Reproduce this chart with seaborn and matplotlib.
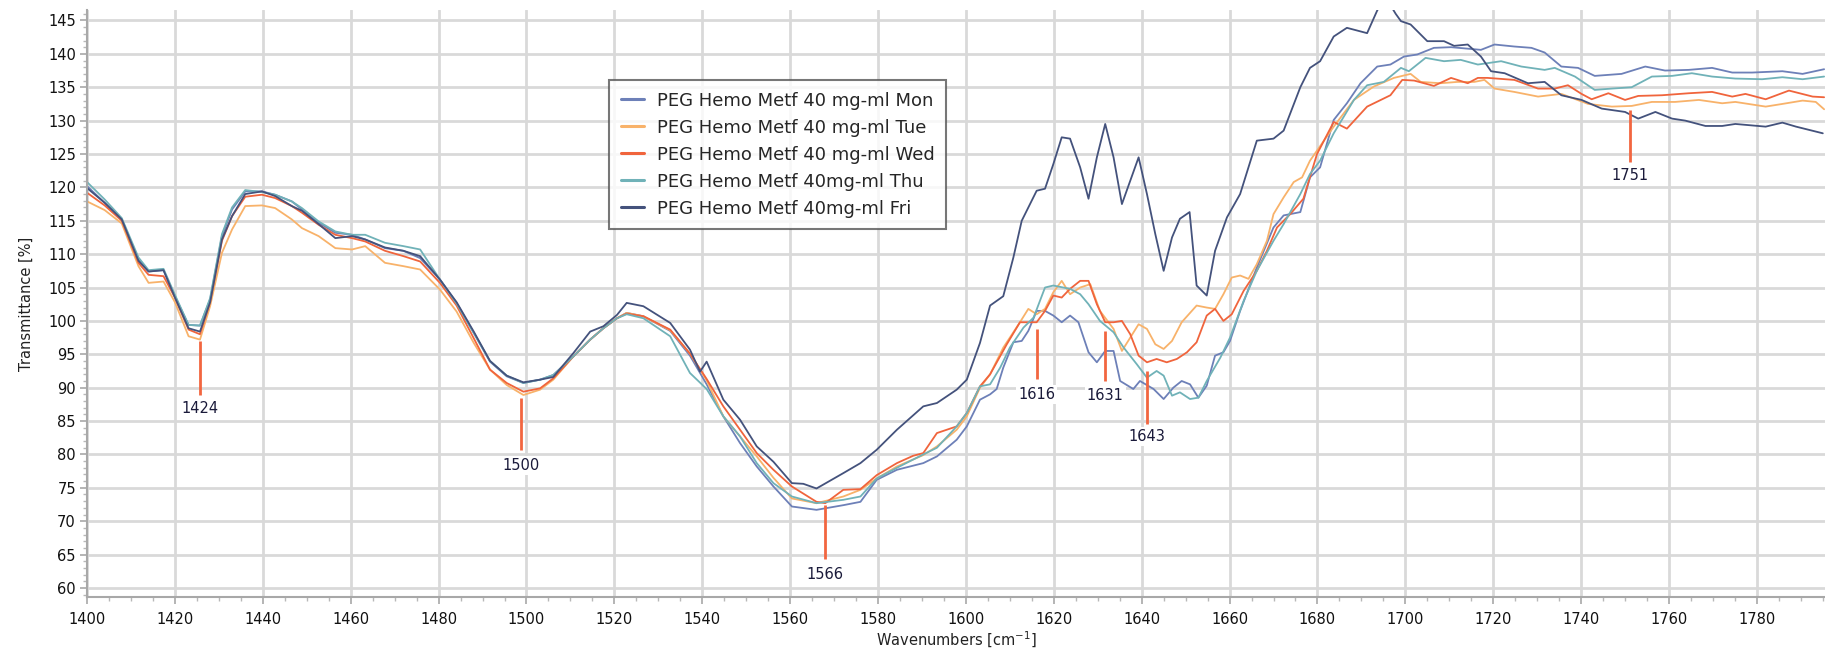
import matplotlib
matplotlib.use("Agg")
import matplotlib.pyplot as plt
import seaborn as sns
import pandas as pd
from matplotlib.lines import Line2D
from matplotlib.ticker import MultipleLocator

# ---------------- data ----------------
series_names = ["PEG Hemo Metf 40 mg-ml Mon", "PEG Hemo Metf 40 mg-ml Tue",
                "PEG Hemo Metf 40 mg-ml Wed", "PEG Hemo Metf 40mg-ml Thu",
                "PEG Hemo Metf 40mg-ml Fri"]

mon_wn = [1400, 1404, 1407.9, 1411.7, 1414, 1417.4, 1420, 1423.1, 1425.7, 1428, 1430.7, 1433, 1436, 1439.8,
          1442.8, 1446.6, 1448.9, 1452.7, 1456.5, 1460.3, 1463.3, 1467.8, 1472, 1475.8, 1480.3, 1484.1, 1488,
          1491.7, 1495.5, 1499.3, 1503.1, 1506.1, 1510.7, 1514.5, 1517.5, 1520.6, 1522.8, 1526.6, 1532.7, 1537.2,
          1541, 1544.8, 1548.6, 1552.4, 1556.2, 1560.4, 1566, 1572.1, 1576, 1579.7, 1584.3, 1590.3, 1593.4,
          1597.9, 1600.2, 1603.2, 1605.5, 1607, 1608.5, 1610.8, 1612.7, 1614.2, 1616.1, 1618, 1619.9, 1621.8,
          1623.7, 1625.6, 1627.9, 1629.8, 1631.7, 1633.6, 1635.1, 1638.1, 1639.6, 1642.7, 1645, 1647.2, 1649.1,
          1651, 1652.9, 1654.8, 1656.7, 1658.6, 1660.1, 1662.4, 1666.2, 1670, 1672.3, 1676.1, 1678.3, 1680.6,
          1683.7, 1686.7, 1689.8, 1693.6, 1696.6, 1699.7, 1702.7, 1706.5, 1710.4, 1717.2, 1720.3, 1724.8,
          1728.7, 1731.7, 1735.5, 1739.3, 1743.1, 1749.2, 1754.6, 1759.1, 1764.5, 1769.8, 1774.4, 1778.9,
          1785.8, 1790.4, 1795.3]
mon_t = [120.2, 117.7, 115.2, 109.2, 107.4, 107.6, 103.7, 99.4, 99.3, 103.2, 112.7, 116.7, 119.4, 119.4,
         118.9, 117.9, 116.7, 114.7, 113.2, 112.9, 112.2, 110.9, 110.5, 109.4, 106.2, 102.7, 98.2,
         93.9, 91.7, 90.7, 91.2, 91.9, 94.7, 97.2, 98.9, 100.4, 101.2, 100.7, 98.5, 94.8,
         90.5, 85.7, 81.7, 78.2, 75.2, 72.2, 71.7, 72.4, 72.9, 76.2, 77.7, 78.7, 79.7,
         82.2, 84.2, 88.2, 89.0, 89.8, 93.0, 96.8, 97.0, 98.5, 101.5, 101.5, 100.8, 99.8,
         100.8, 99.8, 95.3, 93.8, 95.5, 95.5, 91.0, 89.8, 91.0, 89.8, 88.3, 90.0, 91.0,
         90.5, 88.5, 90.3, 94.8, 95.3, 97.0, 101.5, 108.0, 114.0, 115.8, 116.3, 121.5, 123.0,
         130.1, 132.6, 135.6, 138.1, 138.4, 139.6, 139.9, 140.9, 141.0, 140.6, 141.4, 141.1,
         140.9, 140.2, 138.1, 137.9, 136.7, 137.0, 138.1, 137.5, 137.6, 137.9, 137.2, 137.2,
         137.4, 137.0, 137.7]

tue_wn = [1400, 1404, 1407.9, 1411.7, 1414, 1417.4, 1420, 1423.1, 1425.7, 1428, 1430.7, 1433, 1436, 1439.8,
          1442.8, 1446.6, 1448.9, 1452.7, 1456.5, 1460.3, 1463.3, 1467.8, 1472, 1475.8, 1480.3, 1484.1, 1488,
          1491.7, 1495.5, 1499.3, 1503.1, 1506.1, 1510.7, 1514.5, 1517.5, 1520.6, 1522.8, 1526.6, 1532.7, 1537.2,
          1541, 1544.8, 1548.6, 1552.4, 1556.2, 1560.4, 1566, 1572.1, 1576, 1579.7, 1584.3, 1590.3, 1593.4,
          1597.9, 1600.2, 1603.2, 1605.5, 1608.5, 1612.3, 1614.2, 1616.1, 1618, 1619.9, 1621.8, 1623.7, 1626,
          1628.3, 1630.5, 1633.6, 1635.5, 1637.4, 1639.3, 1641.2, 1643.1, 1645, 1646.9, 1649.1, 1652.5, 1654.8,
          1656.7, 1658.6, 1660.5, 1662.4, 1664.3, 1666.2, 1668.5, 1670, 1672.3, 1674.6, 1676.5, 1678.3, 1683.7,
          1688.3, 1692.8, 1697.4, 1701.2, 1703.5, 1708, 1711.9, 1715.7, 1718, 1720.3, 1724.8, 1730.2, 1735.5,
          1741.6, 1747, 1751.5, 1756.1, 1761.4, 1766.8, 1772.1, 1775.1, 1782, 1785.8, 1790.4, 1793.4, 1795.3]
tue_t = [117.9, 116.6, 114.6, 108.2, 105.7, 105.9, 102.8, 97.7, 97.2, 102.2, 110.2, 113.7, 117.2, 117.3,
         116.9, 115.2, 113.9, 112.7, 110.9, 110.7, 111.2, 108.7, 108.2, 107.7, 104.7, 101.4, 96.7,
         92.7, 90.4, 88.9, 89.7, 91.2, 94.7, 97.2, 98.9, 100.4, 101.2, 100.7, 98.6, 95.1,
         91.1, 85.7, 82.7, 79.7, 76.5, 73.4, 72.7, 73.7, 74.7, 76.4, 78.2, 79.9, 81.2,
         83.7, 85.7, 90.0, 92.0, 96.0, 99.8, 101.8, 101.0, 101.8, 104.3, 106.0, 104.0, 105.0,
         105.5, 101.5, 98.8, 95.5, 97.5, 99.5, 98.8, 96.5, 95.8, 97.0, 99.8, 102.3, 102.0,
         101.8, 104.0, 106.5, 106.8, 106.3, 108.5, 112.0, 116.0, 118.5, 120.8, 121.5, 124.0, 129.1,
         133.1, 135.1, 136.4, 137.0, 135.8, 135.6, 135.8, 135.8, 136.1, 134.8, 134.3, 133.6, 134.0,
         132.5, 132.1, 132.2, 132.8, 132.8, 133.1, 132.6, 132.8, 132.1, 132.5, 133.0, 132.8, 131.7]

wed_wn = [1400, 1404, 1407.9, 1411.7, 1414, 1417.4, 1420, 1423.1, 1425.7, 1428, 1430.7, 1433, 1436, 1439.8,
          1442.8, 1446.6, 1448.9, 1452.7, 1456.5, 1460.3, 1463.3, 1467.8, 1472, 1475.8, 1480.3, 1484.1, 1488,
          1491.7, 1495.5, 1499.3, 1503.1, 1506.1, 1510.7, 1514.5, 1517.5, 1520.6, 1522.8, 1526.6, 1532.7, 1537.2,
          1541, 1544.8, 1548.6, 1552.4, 1556.2, 1560.4, 1566, 1568, 1572.1, 1576, 1579.7, 1584.3, 1588, 1590.3,
          1593.4, 1597.9, 1600.2, 1603.2, 1605.5, 1609.3, 1612.3, 1614.2, 1616.1, 1618, 1619.9, 1621.8, 1623.7,
          1626, 1627.9, 1629.8, 1631.7, 1633.6, 1635.5, 1637.4, 1639.3, 1641.2, 1643.4, 1645.7, 1648, 1650.3,
          1652.5, 1654.8, 1656.7, 1658.6, 1660.5, 1663.2, 1666.2, 1668.5, 1670.8, 1673.8, 1676.8, 1679.9,
          1683.7, 1686.7, 1691.3, 1696.6, 1699.3, 1702, 1706.5, 1710.4, 1714.2, 1716.5, 1718.7, 1724.8, 1730.2,
          1734, 1737, 1740.1, 1742.4, 1746.2, 1750, 1753, 1758.4, 1764.5, 1769.8, 1774.4, 1777.4, 1782, 1787.3,
          1792.7, 1795.3]
wed_t = [119.2, 117.3, 115.0, 108.7, 106.9, 106.7, 103.5, 98.7, 98.0, 102.8, 112.0, 115.7, 118.6, 118.9,
         118.4, 117.2, 116.2, 114.4, 112.9, 112.4, 111.9, 110.5, 109.7, 108.9, 105.7, 102.3, 97.4,
         92.7, 90.7, 89.4, 89.9, 91.4, 94.7, 97.2, 98.9, 100.4, 101.1, 100.7, 98.7, 95.1,
         91.3, 87.2, 83.7, 80.2, 77.7, 75.2, 72.9, 72.7, 74.7, 74.8, 76.9, 78.7, 79.8, 80.2,
         83.2, 84.2, 86.2, 90.2, 92.0, 96.5, 99.8, 99.8, 99.8, 101.5, 103.8, 103.5, 104.8,
         106.0, 106.0, 102.5, 99.8, 99.8, 100.0, 98.0, 94.8, 93.8, 94.3, 93.8, 94.3, 95.3,
         96.8, 100.8, 101.8, 100.0, 101.0, 104.5, 107.5, 110.5, 114.0, 116.0, 118.3, 125.0,
         129.8, 128.8, 132.1, 133.8, 136.1, 136.0, 135.2, 136.4, 135.6, 136.4, 136.4, 136.1, 134.8,
         134.8, 135.3, 134.0, 133.2, 134.1, 133.1, 133.7, 133.8, 134.1, 134.3, 133.6, 134.0, 133.2, 134.5,
         133.6, 133.5]

thu_wn = [1400, 1404, 1407.9, 1411.7, 1414, 1417.4, 1420, 1423.1, 1425.7, 1428, 1430.7, 1433, 1436, 1439.8,
          1442.8, 1446.6, 1448.9, 1452.7, 1456.5, 1460.3, 1463.3, 1467.8, 1472, 1475.8, 1480.3, 1484.1, 1488,
          1491.7, 1495.5, 1499.3, 1503.1, 1506.1, 1510.7, 1514.5, 1517.5, 1520.6, 1522.8, 1526.6, 1532.7, 1537.2,
          1541, 1544.8, 1548.6, 1552.4, 1556.2, 1560.4, 1566, 1572.1, 1576, 1579.7, 1584.3, 1590.3, 1593.4,
          1597.9, 1600.2, 1603.2, 1605.5, 1607.8, 1610, 1613.1, 1615.4, 1618, 1619.9, 1623.7, 1626, 1627.9,
          1630.5, 1633.6, 1635.9, 1638.9, 1641.2, 1643.4, 1645, 1646.9, 1648.7, 1651, 1652.9, 1654.8, 1657.9,
          1660.1, 1663.2, 1666.2, 1670, 1672.3, 1676.1, 1678.3, 1680.6, 1683.7, 1688.3, 1691.3, 1695.1, 1699,
          1700.8, 1704.6, 1708.8, 1712.6, 1716.5, 1721.8, 1726.4, 1731.7, 1734, 1738.6, 1743.1, 1747, 1751.5,
          1756.1, 1760.7, 1765.2, 1769.8, 1775.1, 1781.2, 1785.8, 1790.4, 1795.3]
thu_t = [120.8, 118.2, 115.4, 109.5, 107.6, 107.8, 103.9, 99.4, 99.3, 103.4, 113.0, 117.0, 119.6, 119.3,
         118.9, 117.9, 116.9, 114.9, 113.4, 112.9, 112.9, 111.7, 111.2, 110.7, 106.2, 102.6, 98.2,
         94.0, 91.8, 90.7, 91.2, 91.9, 94.7, 97.2, 98.9, 100.4, 101.0, 100.4, 97.7, 92.2,
         89.8, 85.7, 82.7, 78.7, 75.7, 73.7, 72.7, 73.2, 73.7, 76.4, 78.0, 80.0, 81.0,
         84.2, 86.2, 90.2, 90.5, 93.0, 96.0, 99.0, 100.5, 105.0, 105.3, 104.8, 104.0, 102.5,
         100.0, 98.3, 96.0, 93.5, 91.5, 92.5, 91.8, 88.8, 89.3, 88.3, 88.5, 91.0, 94.5,
         97.5, 103.0, 107.5, 112.0, 114.5, 119.0, 122.0, 124.0, 128.1, 133.1, 135.3, 135.8, 137.9,
         137.4, 139.4, 138.9, 139.1, 138.4, 138.9, 138.1, 137.6, 137.9, 136.6, 134.6, 134.8, 135.0,
         136.6, 136.7, 137.1, 136.6, 136.3, 136.2, 136.5, 136.2, 136.6]

fri_wn = [1400, 1404, 1407.9, 1411.7, 1414, 1417.4, 1420, 1423.1, 1425.7, 1428, 1430.7, 1433, 1436, 1439.8,
          1442.8, 1446.6, 1448.9, 1452.7, 1456.5, 1460.3, 1463.3, 1467.8, 1472, 1475.8, 1480.3, 1484.1, 1488,
          1491.7, 1495.5, 1499.3, 1503.1, 1506.1, 1510.7, 1514.5, 1517.5, 1520.6, 1522.8, 1526.6, 1532.7, 1537.2,
          1539.5, 1541, 1544.8, 1548.6, 1552.4, 1556.2, 1560.4, 1563, 1566, 1572.1, 1576, 1579.7, 1584.3, 1590.3,
          1593.4, 1597.9, 1600.2, 1603.2, 1605.5, 1608.5, 1610.8, 1612.7, 1616.1, 1618, 1619.9, 1621.8, 1623.7,
          1626, 1627.9, 1629.8, 1631.7, 1633.6, 1635.5, 1637.4, 1639.3, 1641.2, 1643.1, 1645, 1646.9, 1648.7,
          1650.9, 1652.5, 1654.8, 1656.7, 1659.4, 1662.4, 1666.2, 1670, 1672.3, 1676.1, 1678.3, 1680.6, 1683.7,
          1686.7, 1691.3, 1693.6, 1695.5, 1697.8, 1699, 1701.2, 1705, 1708.8, 1711.1, 1714.2, 1717.2, 1719.5,
          1722.6, 1727.9, 1731.7, 1735.5, 1740.1, 1744.7, 1750, 1753, 1756.9, 1760.7, 1763.7, 1768.3, 1772.1,
          1775.1, 1782, 1785.8, 1788.9, 1795]
fri_t = [119.9, 117.7, 115.2, 109.0, 107.4, 107.6, 103.5, 98.9, 98.4, 102.8, 112.2, 115.7, 119.0, 119.4,
         118.7, 117.2, 116.5, 114.5, 112.4, 112.7, 112.2, 111.0, 110.5, 109.7, 106.2, 102.8, 98.4,
         94.0, 91.8, 90.8, 91.2, 91.6, 95.2, 98.4, 99.2, 100.9, 102.7, 102.2, 99.7, 95.7,
         92.4, 93.9, 88.2, 85.2, 81.2, 78.9, 75.7, 75.6, 74.9, 77.2, 78.7, 80.7, 83.7, 87.2,
         87.7, 89.7, 91.2, 96.7, 102.3, 103.7, 109.5, 115.0, 119.5, 119.8, 123.5, 127.5, 127.3,
         123.0, 118.3, 124.5, 129.5, 124.5, 117.5, 121.0, 124.5, 119.0, 113.0, 107.5, 112.5, 115.3,
         116.3, 105.3, 103.8, 110.5, 115.5, 119.0, 127.0, 127.3, 128.5, 135.0, 137.9, 138.9, 142.6,
         143.9, 143.1, 146.5, 148.5, 146.0, 144.9, 144.4, 141.9, 141.9, 141.2, 141.4, 139.6, 137.4,
         137.1, 135.6, 135.8, 133.8, 133.1, 131.8, 131.3, 130.3, 131.3, 130.3, 130.0, 129.2, 129.2,
         129.5, 129.1, 129.7, 129.1, 128.1]

peak_pos = [1425.6, 1498.7, 1568.0, 1616.1, 1631.7, 1641.2, 1751.1]
peak_text = ["1424", "1500", "1566", "1616", "1631", "1643", "1751"]
peak_top = [97.0, 88.4, 72.4, 98.8, 98.5, 92.5, 131.6]
peak_bottom = [88.9, 80.7, 64.3, 91.3, 91.0, 84.5, 123.8]
peak_label_y = [86.9, 78.4, 62.0, 89.0, 88.8, 82.7, 121.8]

colors = ["#6d80b8", "#f8b26a", "#f0643c", "#70b2b8", "#44527c"]

# ---------------- build long-form table ----------------
frames = []
for name, wn, t in zip(series_names,
                       [mon_wn, tue_wn, wed_wn, thu_wn, fri_wn],
                       [mon_t, tue_t, wed_t, thu_t, fri_t]):
    frames.append(pd.DataFrame({"wn": wn, "T": t, "series": name}))
df = pd.concat(frames, ignore_index=True)

# ---------------- figure ----------------
sns.set_theme(style="white")
plt.rcParams["font.family"] = ["DejaVu Sans"]

fig = plt.figure(figsize=(18.25, 6.54), dpi=100)
ax = fig.add_axes([0.0477, 0.0872, 0.9523, 0.8968])

sns.lineplot(data=df, x="wn", y="T", hue="series", hue_order=series_names,
             palette=dict(zip(series_names, colors)), estimator=None, sort=False,
             linewidth=1.3, ax=ax, legend=False)

ax.set_xlim(1400, 1795.5)
ax.set_ylim(58.65, 146.5)
ax.xaxis.set_major_locator(MultipleLocator(20))
ax.xaxis.set_minor_locator(MultipleLocator(5))
ax.yaxis.set_major_locator(MultipleLocator(5))
ax.yaxis.set_minor_locator(MultipleLocator(1))
ax.grid(True, which="major", color="#d9d9d9", linewidth=2.0)
ax.set_axisbelow(True)

for s in ["top", "right"]:
    ax.spines[s].set_visible(False)
for s in ["left", "bottom"]:
    ax.spines[s].set_color("#a8a8a8")
    ax.spines[s].set_linewidth(1.5)

ax.tick_params(axis="both", which="major", direction="out", length=5, width=1.2,
               color="#a8a8a8", labelsize=10.5, labelcolor="#111111", pad=3)
ax.tick_params(axis="both", which="minor", direction="out", length=3, width=1.0,
               color="#b8b8b8")
ax.tick_params(axis="x", which="major", pad=6)
ax.xaxis.set_ticks_position("bottom")
ax.yaxis.set_ticks_position("left")

ax.set_xlabel("Wavenumbers [cm$^{-1}$]", fontsize=10.5, color="#222222", labelpad=2)
ax.set_ylabel("Transmittance [%]", fontsize=10.5, color="#222222", labelpad=10)

# peak markers
for pos, txt, top, bot, ly in zip(peak_pos, peak_text, peak_top, peak_bottom, peak_label_y):
    ax.vlines(pos, bot, top, color="#f26640", linewidth=2.0, zorder=6)
    ax.text(pos, ly, txt, ha="center", va="center", fontsize=10.5, color="#1a1a3a",
            zorder=5, bbox=dict(facecolor="white", edgecolor="none", pad=1.5))

# legend
handles = [Line2D([0], [0], color=c, linewidth=2.2) for c in colors]
leg = ax.legend(handles, series_names, loc="upper left", bbox_to_anchor=(0.295, 0.897),
                fontsize=13, frameon=True, fancybox=False, shadow=False,
                handlelength=1.3, handletextpad=0.7, borderpad=0.65, labelspacing=0.5)
leg.get_frame().set_edgecolor("#555555")
leg.get_frame().set_linewidth(1.5)
leg.set_zorder(10)

fig.savefig("out.png", dpi=100)
